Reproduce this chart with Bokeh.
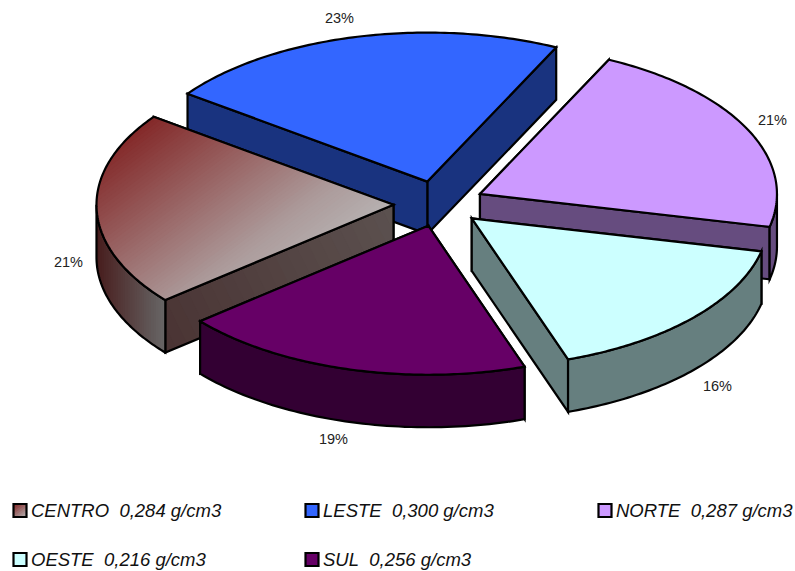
import numpy as np
from bokeh.plotting import figure
from bokeh.core.properties import value
from bokeh.embed import file_html
from bokeh.resources import INLINE

# ---- data
categories = ["CENTRO", "LESTE", "NORTE", "OESTE", "SUL"]
density_labels = ["0,284", "0,300", "0,287", "0,216", "0,256"]
percent_labels = ["21%", "23%", "21%", "16%", "19%"]
slice_shares = [21.1, 22.1, 21.4, 16.2, 19.2]   # share of the circle of each slice, measured on the picture

# ---- styles and layout (pixel coordinates of the page)
top_colors = [None, "#3366FF", "#CC99FF", "#CCFFFF", "#660066"]
side_colors = [None, "#19337F", "#664C7F", "#667F7F", "#330033"]
draw_order = [1, 2, 0, 3, 4]
START, CX, CY, RX, RY, EXPLODE, DEPTH = 230.2, 438.0, 203.5, 297.0, 149.0, 0.155, 52.5
nudge_x = [1.0, 0.0, 0.0, -1.0, 2.2]
nudge_y = [0.0, 0.0, 0.0, -1.0, -0.5]
LW = 2.2
pct_x = [68, 339, 772, 717, 333]
pct_y = [261, 17, 119, 385, 438]
leg_x = [13, 305, 598, 13, 305]
leg_y = [510, 510, 510, 559, 559]
SW = 13
W, H = 795, 571

p = figure(width=W, height=H, x_range=(0, W), y_range=(H, 0),
           output_backend="svg", toolbar_location=None, min_border=0, tools="")
p.axis.visible = False
p.grid.visible = False
p.outline_line_color = None
p.background_fill_color = "white"
p.border_fill_color = "white"


def pt(a, apex):
    r = np.radians(a)
    return apex[0] + RX * np.sin(r), apex[1] - RY * np.cos(r)


def clip(poly, n, t):
    """Sutherland-Hodgman: keep the part of poly with dot(P, n) >= t."""
    out = []
    m = len(poly)
    for i in range(m):
        a, b = poly[i], poly[(i + 1) % m]
        da, db = a[0] * n[0] + a[1] * n[1] - t, b[0] * n[0] + b[1] * n[1] - t
        if da >= 0:
            out.append(a)
        if (da >= 0) != (db >= 0):
            s = da / (da - db)
            out.append((a[0] + s * (b[0] - a[0]), a[1] + s * (b[1] - a[1])))
    return out


def to_hex(c):
    return "#%02x%02x%02x" % tuple(int(round(v)) for v in c)


def shade(poly, n, t0, t1, stops, steps=48):
    """Gradient fill drawn as nested clipped polygons."""
    xs, ys, cs = [], [], []
    pos = [s[0] for s in stops]
    for k in range(steps):
        f = k / (steps - 1)
        col = [np.interp(f, pos, [s[1][j] for s in stops]) for j in range(3)]
        q = poly if k == 0 else clip(poly, n, t0 + (t1 - t0) * f)
        if len(q) >= 3:
            xs.append([a[0] for a in q])
            ys.append([a[1] for a in q])
            cs.append(to_hex(col))
    p.patches(xs, ys, fill_color=cs, line_color=None)


def outline(poly):
    xs = [a[0] for a in poly]
    ys = [a[1] for a in poly]
    p.patch(xs, ys, fill_color=None, line_color="black", line_width=LW, line_join="miter")


def flat(poly, fill):
    xs = [a[0] for a in poly]
    ys = [a[1] for a in poly]
    p.patch(xs, ys, fill_color=fill, line_color="black", line_width=LW, line_join="miter")


GRAD_DIR = (0.6, 0.8)
TOP_STOPS = [(0, (132, 42, 42)), (0.75, (172, 155, 155)), (1, (183, 178, 178))]

total = sum(slice_shares)
edges = [START]
for d in slice_shares:
    edges.append(edges[-1] + 360.0 * d / total)

for i in draw_order:
    a0, a1 = edges[i], edges[i + 1]
    mid = np.radians((a0 + a1) / 2)
    apex = (CX + EXPLODE * RX * np.sin(mid) + nudge_x[i], CY - EXPLODE * RY * np.cos(mid) + nudge_y[i])
    arc_a = np.linspace(a0, a1, 90)
    arc = [pt(a, apex) for a in arc_a]
    top = [apex] + arc
    down = lambda q: (q[0], q[1] + DEPTH)

    # radial walls, the one further back first
    walls = [[apex, arc[0], down(arc[0]), down(apex)], [apex, arc[-1], down(arc[-1]), down(apex)]]
    walls.sort(key=lambda w: w[1][1])
    for w in walls:
        if i == 0:
            n = (0.9, -0.44)
            d0 = [a[0] * n[0] + a[1] * n[1] for a in w]
            shade(w, n, min(d0), max(d0), [(0, (74, 52, 52)), (1, (92, 82, 80))], 24)
            outline(w)
        else:
            flat(w, side_colors[i])

    # outer wall: the part of the rim facing the viewer
    vis = []
    for base in (-360, 0, 360):
        lo, hi = max(a0, 90 + base), min(a1, 270 + base)
        if hi > lo:
            vis.append((lo, hi))
    for lo, hi in vis:
        rim = [pt(a, apex) for a in np.linspace(lo, hi, 60)]
        w = rim + [down(q) for q in rim[::-1]]
        if i == 0:
            shade(w, (1, 0), min(a[0] for a in w), max(a[0] for a in w),
                  [(0, (72, 30, 30)), (1, (104, 104, 104))], 30)
            outline(w)
        else:
            flat(w, side_colors[i])

    # top face
    if i == 0:
        d0 = [a[0] * GRAD_DIR[0] + a[1] * GRAD_DIR[1] for a in top]
        shade(top, GRAD_DIR, min(d0), max(d0), TOP_STOPS, 64)
        outline(top)
    else:
        flat(top, top_colors[i])

# percentage labels
p.text(pct_x, pct_y, text=percent_labels, text_font=value("Liberation Sans"),
       text_font_size="14.5px", text_color="#222222", text_align="center", text_baseline="middle")

# legend
for i, c in enumerate(categories):
    x, y = leg_x[i], leg_y[i]
    sq = [(x, y - SW / 2), (x + SW, y - SW / 2), (x + SW, y + SW / 2), (x, y + SW / 2)]
    if i == 0:
        d0 = [a[0] * GRAD_DIR[0] + a[1] * GRAD_DIR[1] for a in sq]
        shade(sq, GRAD_DIR, min(d0), max(d0), TOP_STOPS, 10)
        outline(sq)
    else:
        flat(sq, top_colors[i])

leg_text = [f"{c}\u00a0 {d} g/cm3" for c, d in zip(categories, density_labels)]
p.text([x + 17.5 for x in leg_x], leg_y, text=leg_text, text_font=value("Liberation Sans"),
       text_font_size="18.5px", text_font_style="italic", text_color="#111111",
       text_align="left", text_baseline="middle")

open("out.html", "w").write(file_html(p, INLINE))
